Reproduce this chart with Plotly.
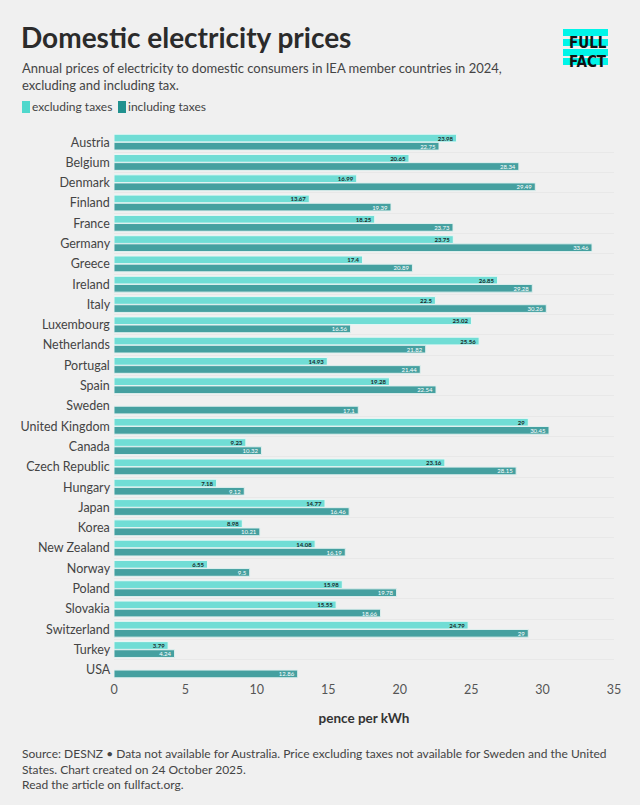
import plotly.graph_objects as go

countries = ["Austria", "Belgium", "Denmark", "Finland", "France", "Germany", "Greece",
             "Ireland", "Italy", "Luxembourg", "Netherlands", "Portugal", "Spain", "Sweden",
             "United Kingdom", "Canada", "Czech Republic", "Hungary", "Japan", "Korea",
             "New Zealand", "Norway", "Poland", "Slovakia", "Switzerland", "Turkey", "USA"]
excl_tax = [23.98, 20.65, 16.99, 13.67, 18.25, 23.75, 17.4, 26.85, 22.5, 25.02, 25.56, 14.93,
            19.28, None, 29, 9.23, 23.16, 7.18, 14.77, 8.98, 14.08, 6.55, 15.98, 15.55, 24.79,
            3.79, None]
incl_tax = [22.75, 28.34, 29.49, 19.39, 23.73, 33.46, 20.89, 29.28, 30.26, 16.56, 21.82, 21.44,
            22.54, 17.1, 30.45, 10.32, 28.15, 9.12, 16.46, 10.21, 16.19, 9.5, 19.78, 18.66, 29,
            4.24, 12.86]
x_ticks = [0, 5, 10, 15, 20, 25, 30, 35]

FONT = "Lato"
BG = "#f0f0f0"
OFF = 8  # page body margin
W, H = 640 - OFF, 805 - OFF
L, R, T, B = 114 - OFF, 26, 132 - OFF, 125
PW, PH = W - L - R, H - T - B


# helpers: positions measured on the 640x805 screenshot -> paper coords
def px_x(x):
    return (x - OFF - L) / PW


def px_y(y):
    return (H - B - (y - OFF)) / PH


fig = go.Figure()
fig.add_trace(go.Bar(
    name="excluding taxes", y=countries, x=excl_tax, orientation="h",
    marker=dict(color="#70ddd5", line=dict(color="#e8f8f6", width=1)),
    texttemplate="<b>%{x}</b>", textposition="inside", insidetextanchor="end",
    textfont=dict(size=6, color="#1b2b2b", family=FONT), constraintext="none",
))
fig.add_trace(go.Bar(
    name="including taxes", y=countries, x=incl_tax, orientation="h",
    marker=dict(color="#45a0a0", line=dict(color="#e0f0ef", width=1)),
    texttemplate="%{x}", textposition="inside", insidetextanchor="end",
    textfont=dict(size=6, color="#ffffff", family=FONT), constraintext="none",
))

fig.update_layout(
    width=W, height=H,
    paper_bgcolor=BG, plot_bgcolor=BG,
    font=dict(family=FONT, color="#444444", size=12),
    barmode="group", bargap=0.2, bargroupgap=0.05,
    margin=dict(l=L, r=R, t=T, b=B, autoexpand=False),
    showlegend=False,
    title=dict(text="<b>Domestic electricity prices</b>", x=13 / W, xanchor="left",
               y=1 - 30 / H, yanchor="middle",
               font=dict(size=28, color="#2b2b2b", family=FONT)),
)

fig.update_xaxes(range=[0, 35], tickvals=x_ticks, showgrid=False, zeroline=False,
                 showline=False, ticks="", tickfont=dict(size=12.5, color="#555555"),
                 title=dict(text="<b>pence per kWh</b>", font=dict(size=13.5, color="#333333"),
                            standoff=18),
                 automargin=False)
fig.update_yaxes(autorange="reversed", showgrid=True, gridcolor="#e8e8e8", gridwidth=1,
                 tickson="boundaries", ticks="", showline=False,
                 tickfont=dict(size=12.5, color="#444444"), ticksuffix=" ",
                 automargin=False)

fig.add_annotation(text="Annual prices of electricity to domestic consumers in IEA member countries in 2024,<br>excluding and including tax.",
                   xref="paper", yref="paper", x=px_x(20), y=px_y(58),
                   xanchor="left", yanchor="top", align="left", showarrow=False,
                   font=dict(size=13, color="#444444"))

# legend drawn by hand
for label, color, x0 in [("excluding taxes", "#4fd8cc", 22), ("including taxes", "#21918f", 118)]:
    fig.add_shape(type="rect", xref="paper", yref="paper",
                  x0=px_x(x0), x1=px_x(x0 + 8), y0=px_y(113), y1=px_y(101),
                  fillcolor=color, line=dict(width=0))
    fig.add_annotation(text=label, xref="paper", yref="paper",
                       x=px_x(x0 + 8), y=px_y(107), xanchor="left", yanchor="middle",
                       showarrow=False, font=dict(size=12, color="#444444"))

fig.add_annotation(text="Source: DESNZ \u2022 Data not available for Australia. Price excluding taxes not available for Sweden and the United<br>States. Chart created on 24 October 2025.<br>Read the article on fullfact.org.",
                   xref="paper", yref="paper", x=px_x(20), y=px_y(744),
                   xanchor="left", yanchor="top", align="left", showarrow=False,
                   font=dict(size=12, color="#444444"))

# Full Fact logo: cyan stripes with text on top
for y0 in [29, 39, 49, 58]:
    fig.add_shape(type="rect", xref="paper", yref="paper",
                  x0=px_x(563), x1=px_x(608), y0=px_y(y0 + 7), y1=px_y(y0),
                  fillcolor="#00f5e9", line=dict(width=0), layer="below")
for label, yc in [("FULL", 43), ("FACT", 62)]:
    fig.add_annotation(text="<b>" + label + "</b>", xref="paper", yref="paper",
                       x=px_x(609), y=px_y(yc), xanchor="right", yanchor="middle",
                       showarrow=False,
                       font=dict(size=15, color="#111111", family="DejaVu Sans Condensed, " + FONT))

# fill the page margin with the chart background
fig.write_html("out.html", post_script="document.body.style.background = '%s';" % BG)
